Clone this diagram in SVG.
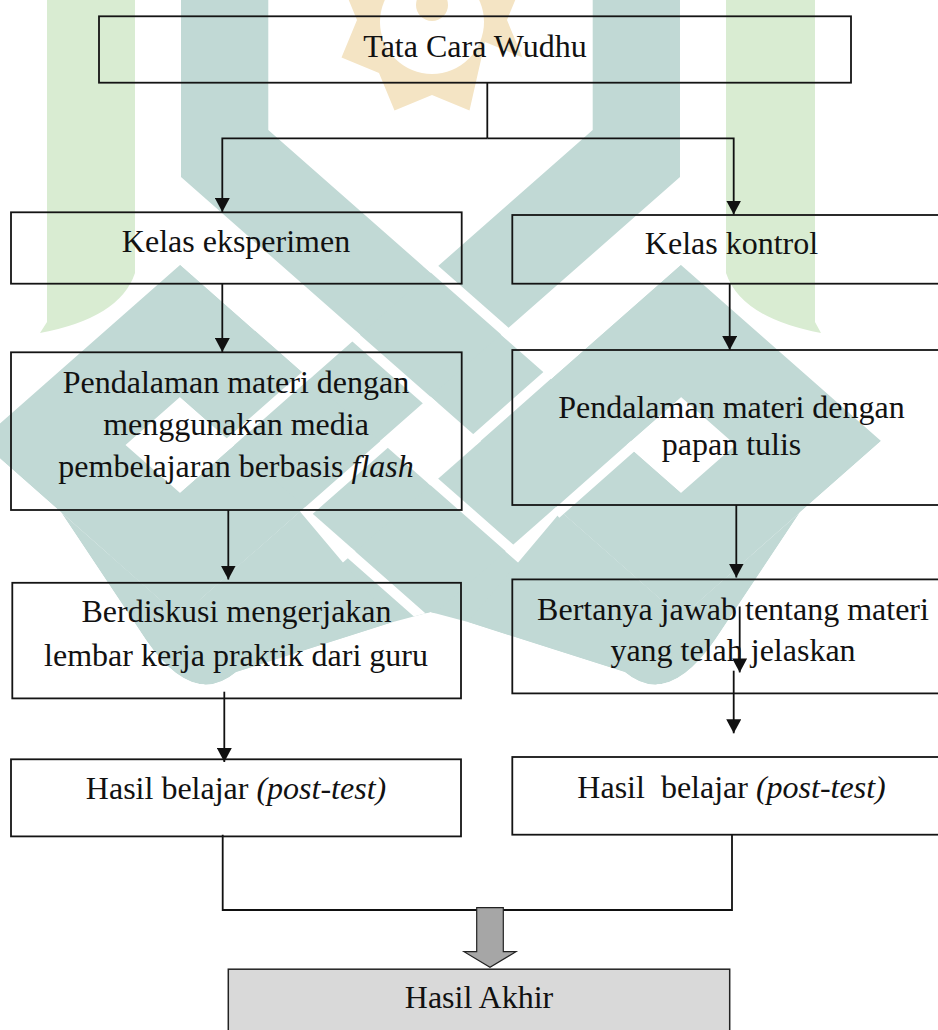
<svg xmlns="http://www.w3.org/2000/svg" width="938" height="1030" viewBox="0 0 938 1030">
<defs>
<style>
.bx{fill:none;stroke:#141414;stroke-width:1.8}
.tx{font-family:"Liberation Serif","Times New Roman",serif;font-size:32px;fill:#111;text-anchor:middle}
.it{font-style:italic}
.ln{fill:none;stroke:#111;stroke-width:1.8}
.ar{fill:none;stroke:#111;stroke-width:1.8;marker-end:url(#ah)}
.teal{fill:#c1d9d5}
.gap{stroke:#fff;stroke-width:10;fill:none}
.grn{fill:#d9ecd2}
.tan{fill:#f4e4c4}
</style>
<marker id="ah" markerUnits="userSpaceOnUse" markerWidth="15" markerHeight="15" refX="14" refY="7.5" orient="auto">
<path d="M0,0 L14,7.5 L0,15 Z" fill="#111"/>
</marker>
<clipPath id="outline">
<path d="M-10,-10 H948 V441 H881 L800,512.3 L715,640 Q668,708 625,672 L468,622 L430.5,612 L393,622 L236,672 Q193,708 146,640 L61,512.3 L-10,449.8 Z"/>
</clipPath>
</defs>
<rect width="938" height="1030" fill="#fff"/>
<g id="watermark">
<path class="grn" d="M47,0 H135 V273 Q120,318 40,333 L47,322 Z"/>
<path class="grn" d="M815,0 H726 V273 Q741,318 821,333 L815,322 Z"/>
<polygon class="tan" points="522.5,57.5 485,42 469.5,110.5 432,95 394.5,110.5 379,73 341.5,57.5 357,20 341.5,-17.5 379,-33 394.5,-70 432,-55 469.5,-70 485,-33 522.5,-17.5 507,20"/>
<circle cx="432" cy="22" r="52" fill="#fff"/>
<circle class="tan" cx="432" cy="5" r="16"/>
<g clip-path="url(#outline)">
<polygon class="teal" points="181,-5 268.3,-5 268.3,130 751.4,555.1 681,617 181,177"/>
<polygon class="teal" points="680,-5 592.7,-5 592.7,130 109.6,555.1 180,617 680,177"/>
<path class="teal" fill-rule="evenodd" d="M180,265 L380,441 L180,617 L-20,441 Z M180,397 L234.7,445.1 L180.1,493.1 L125.5,445 Z"/>
<path class="teal" fill-rule="evenodd" d="M681,265 L881,441 L681,617 L481,441 Z M681,397 L626.3,445.1 L680.9,493.1 L735.5,445 Z"/>
<polygon class="teal" points="180,265 720,740.2 720,872.2 180,397"/>
<polygon class="teal" points="681,265 141,740.2 141,872.2 681,397"/>
<path class="teal" d="M61,512.3 L146,640 Q193,708 236,672 L393,622 L300,511.4 L180,617 Z"/>
<path class="teal" d="M800,512.3 L715,640 Q668,708 625,672 L468,622 L561,511.4 L681,617 Z"/>
<path class="gap" d="M426,261.8 L509,334.8 M352,334.5 L434,406.6 M227,444.8 L310,371.8 M305,514 L388,441 M431,478.9 L513,551 M348,551.8 L430,624 M473,441 L551,372 M556,514 L634,445"/>
</g>
</g>
<g id="connectors">
<path class="ln" d="M487.3,83 V138.3"/>
<path class="ar" d="M487.3,138.3 H222.3 V212"/>
<path class="ar" d="M487.3,138.3 H733.7 V214.5"/>
<path class="ar" d="M222.3,283.7 V352"/>
<path class="ar" d="M729.7,283.7 V350"/>
<path class="ar" d="M228.3,510 V579.5"/>
<path class="ar" d="M736.3,505 V577.5"/>
<path class="ar" d="M224.3,691.7 V762"/>
<path class="ar" d="M739.7,606.5 V672.4"/>
<path class="ar" d="M733.7,670.7 V733.3"/>
<path class="ln" d="M222.7,834.7 V910 H732 V834.7"/>
<polygon points="476.7,907.7 503.3,907.7 503.3,951.7 516,951.7 490,967.3 464,951.7 476.7,951.7" fill="#a6a6a6" stroke="#222" stroke-width="1.2"/>
</g>
<g id="n-top">
<rect class="bx" x="99" y="16.3" width="752" height="66.4"/>
<text class="tx" x="475" y="57">Tata Cara Wudhu</text>
</g>
<g id="n-eksperimen">
<rect class="bx" x="11" y="212.3" width="450.7" height="71.4"/>
<text class="tx" x="236" y="252.3">Kelas eksperimen</text>
</g>
<g id="n-kontrol">
<rect class="bx" x="512.3" y="215" width="440" height="68.7"/>
<text class="tx" x="731.5" y="254.3">Kelas kontrol</text>
</g>
<g id="n-pendalaman-e">
<rect class="bx" x="11" y="352.3" width="450.7" height="157.7"/>
<text class="tx" x="236" y="393.3">Pendalaman materi dengan</text>
<text class="tx" x="236" y="435">menggunakan media</text>
<text class="tx" x="236" y="476.7">pembelajaran berbasis <tspan class="it">flash</tspan></text>
</g>
<g id="n-pendalaman-k">
<rect class="bx" x="512.3" y="350" width="440" height="155"/>
<text class="tx" x="731.5" y="418.3">Pendalaman materi dengan</text>
<text class="tx" x="731.5" y="455">papan tulis</text>
</g>
<g id="n-diskusi">
<rect class="bx" x="12.3" y="582.8" width="448.7" height="115.6"/>
<text class="tx" x="236.5" y="622.4">Berdiskusi mengerjakan</text>
<text class="tx" x="236" y="665.7">lembar kerja praktik dari guru</text>
</g>
<g id="n-tanya">
<rect class="bx" x="512.3" y="579.4" width="440" height="114"/>
<text class="tx" x="733" y="620">Bertanya jawab tentang materi</text>
<text class="tx" x="733" y="660.6">yang telah jelaskan</text>
</g>
<g id="n-hasil-e">
<rect class="bx" x="11" y="759.3" width="450" height="77.1"/>
<text class="tx" x="236" y="799.2">Hasil belajar <tspan class="it">(post-test)</tspan></text>
</g>
<g id="n-hasil-k">
<rect class="bx" x="512.3" y="757" width="440" height="77.7"/>
<text class="tx" x="731.5" y="797.5" xml:space="preserve">Hasil  belajar <tspan class="it">(post-test)</tspan></text>
</g>
<g id="n-akhir">
<rect x="228.3" y="969.2" width="501.4" height="80" fill="#d9d9d9" stroke="#222" stroke-width="1.5"/>
<text class="tx" x="479" y="1008.3">Hasil Akhir</text>
</g>
</svg>
